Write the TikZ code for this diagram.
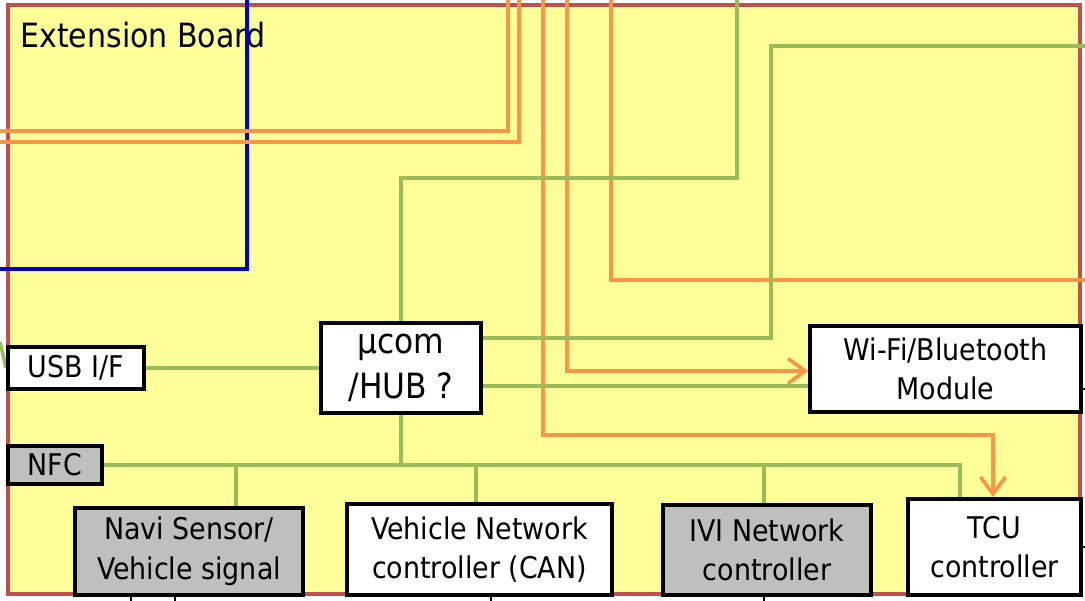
\documentclass[tikz,border=0pt]{standalone}
\usepackage{fontspec}
\setmainfont{DejaVu Sans Condensed}
\usepackage[usenames, dvipsnames]{xcolor}
\usetikzlibrary{arrows.meta,backgrounds}

\definecolor{boardyellow}{HTML}{FFFF99}
\definecolor{boardred}{HTML}{C0504D}
\definecolor{busgreen}{HTML}{9BBB59}
\definecolor{linkorange}{HTML}{F79646}
\definecolor{linkblue}{HTML}{0000CC}
\definecolor{chipgray}{HTML}{BFBFBF}

\tikzset{
    chip/.style={draw=black, line width=2.2pt, fill=white, align=center, inner sep=0pt,
        font=\fontsize{17}{22.5}\selectfont},
    grey chip/.style={chip, fill=chipgray},
    green wire/.style={draw=busgreen, line width=2.1pt},
    orange wire/.style={draw=linkorange, line width=2.1pt},
    barb/.style={-{Straight Barb[length=0.34cm,width=0.5cm]}},
}

\begin{document}
\begin{tikzpicture}[x=0.02cm, y=-0.02cm]
    \useasboundingbox (0,0) rectangle (1085,601);

    % boxes on the board
    \node[chip, minimum width=2.72cm, minimum height=0.84cm] (usb) at (76,368) {USB I/F};
    \node[chip, minimum width=3.2cm, minimum height=1.8cm, font=\fontsize{19.8}{25.5}\selectfont] (hub) at (401,368) {µcom\\/HUB ?};
    \node[grey chip, minimum width=1.88cm, minimum height=0.76cm] (nfc) at (55,465) {NFC};
    \node[grey chip, minimum width=4.56cm, minimum height=1.74cm] (navi) at (189,551.5) {Navi Sensor/\\Vehicle signal};
    \node[chip, minimum width=5.3cm, minimum height=1.82cm] (can) at (479.5,549.5) {Vehicle Network\\controller (CAN)};
    \node[grey chip, minimum width=4.16cm, minimum height=1.8cm] (ivi) at (767,550) {IVI Network\\controller};
    \node[chip, minimum width=3.46cm, minimum height=1.92cm] (tcu) at (994.5,547) {TCU\\controller};
    \node[chip, minimum width=5.42cm, minimum height=1.72cm] (wifi) at (945.5,369) {Wi-Fi/Bluetooth\\Module};

    % lines leaving the picture
    \foreach \x/\target in {131/navi, 175/navi, 491/can, 764/ivi}
        \draw[line width=1.5pt] (\target.south -| \x,0) -- ++(0,8);
    \draw[line width=1.5pt] ([yshift=-0.4cm]wifi.east) -- ++(8,0);
    \draw[line width=1.5pt] (tcu.east) -- ++(8,0);

    \begin{pgfonlayer}{background}
        \draw[fill=boardyellow, draw=boardred, line width=2.8pt] (8,5) rectangle (1080,594);
        \node[anchor=base west, inner sep=0pt, font=\fontsize{19}{22}\selectfont] (title) at (20,48) {Extension Board};

        \draw[draw=linkblue, line width=2.1pt] (247,0) -- (247,269) -- (0,269);

        % orange links
        \draw[orange wire] (508,0) -- (508,131) -- (0,131);
        \draw[orange wire] (519,0) -- (519,142) -- (0,142);
        \draw[orange wire] (611,0) -- (611,280) -- (1085,280);
        \coordinate (tcu turn) at (993,435);
        \draw[orange wire, barb] (543,0) -- (543,435) -- (tcu turn) -- (tcu turn |- tcu.north);
        \coordinate (wifi turn) at (567,371);
        \draw[orange wire, barb] (567,0) -- (wifi turn) -- (wifi turn -| wifi.west);

        % green links
        \draw[green wire] (0,342) -- (usb.west);
        \draw[green wire] (usb.east) -- (hub.west);
        \coordinate (hub top) at (401,178);
        \draw[green wire] (hub.north) -- (hub top) -- (737,178) -- (737,0);
        \coordinate (wlan feed) at (771,338);
        \draw[green wire] (wlan feed -| hub.east) -- (wlan feed) -- (771,46) -- (1085,46);
        \coordinate (wifi feed) at (700,386);
        \draw[green wire] (wifi feed -| hub.east) -- (wifi feed -| wifi.west);

        % bus to the controllers
        \coordinate (bus hub) at (401,465);
        \coordinate (bus end) at (960,465);
        \draw[green wire] (hub.south) -- (bus hub);
        \draw[green wire] (nfc.east) -- (bus end) -- (bus end |- tcu.north);
        \foreach \tap/\target in {236/navi, 476/can, 764/ivi}
            \draw[green wire] (\tap,465) -- (\tap,465 |- \target.north);
    \end{pgfonlayer}
\end{tikzpicture}
\end{document}
